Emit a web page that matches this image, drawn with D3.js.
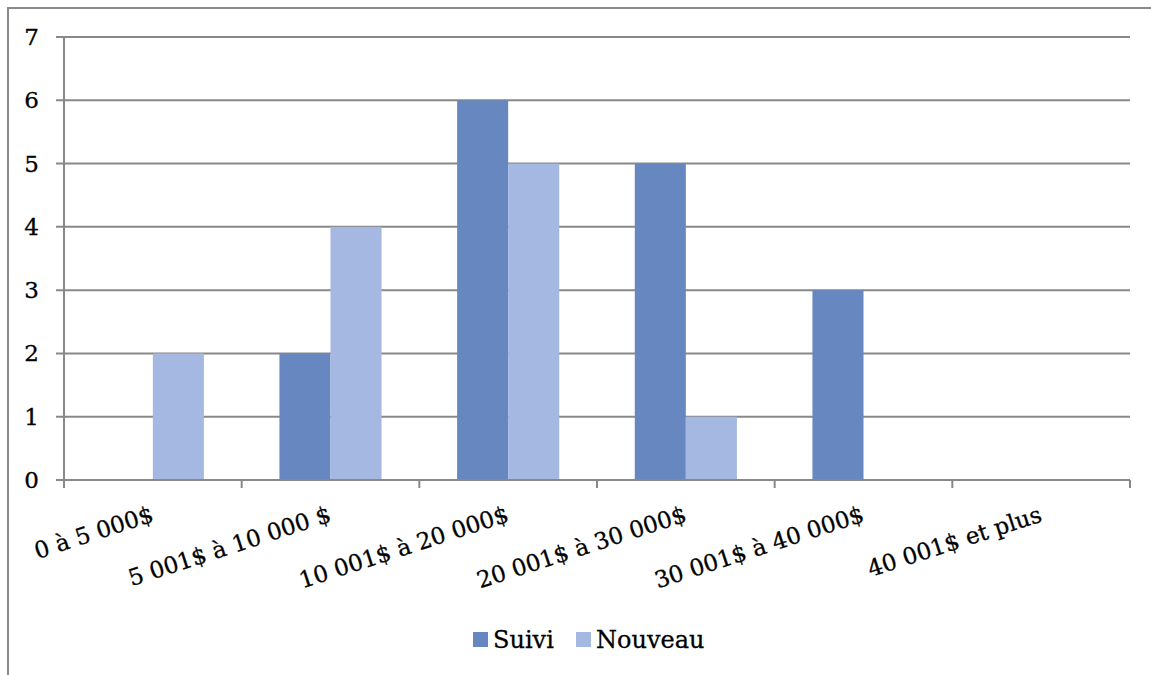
<!DOCTYPE html>
<meta charset="utf-8">
<style>
body { margin: 0; background: #fff; }
svg text { font-family: "DejaVu Serif", serif; fill: #000; stroke: #000; stroke-width: 0.3px; }
</style>
<body>
<script src="https://cdn.jsdelivr.net/npm/d3@7"></script>
<script>
'use strict';

// data
const categories = ["0 à 5 000$", "5 001$ à 10 000 $", "10 001$ à 20 000$",
                    "20 001$ à 30 000$", "30 001$ à 40 000$", "40 001$ et plus"];
const seriesNames = ["Suivi", "Nouveau"];
const suivi   = [0, 2, 6, 5, 3, 0];
const nouveau = [2, 4, 5, 1, 0, 0];
const yTicks  = [0, 1, 2, 3, 4, 5, 6, 7];
const colors  = ["#6787c0", "#a5b8e2"];

const W = 1151, H = 675;
const plot = {left: 64, right: 1130, top: 37, bottom: 480};

const svg = d3.select("body").append("svg")
    .attr("width", W).attr("height", H);

// chart frame (only top and left edges show)
svg.append("path")
    .attr("d", "M8,675V8H1151")
    .attr("fill", "none")
    .attr("stroke", "#888")
    .attr("stroke-width", 2);

const x = d3.scaleBand().domain(categories)
    .range([plot.left, plot.right]);
const inner = d3.scaleBand().domain(seriesNames)
    .range([0, x.bandwidth()])
    .paddingOuter(0.74);
const y = d3.scaleLinear().domain([0, 7]).range([plot.bottom, plot.top]);

// gridlines + left ticks
svg.append("g").selectAll("line").data(yTicks).enter().append("line")
    .attr("x1", plot.left - 8).attr("x2", plot.right)
    .attr("y1", d => y(d)).attr("y2", d => y(d))
    .attr("stroke", "#888").attr("stroke-width", 2);

svg.append("g").selectAll("text").data(yTicks).enter().append("text")
    .attr("x", 39).attr("y", d => y(d) + 8)
    .attr("text-anchor", "end")
    .style("font-size", "23px")
    .text(d => d);

// y axis line
svg.append("line")
    .attr("x1", plot.left).attr("x2", plot.left)
    .attr("y1", plot.top).attr("y2", plot.bottom)
    .attr("stroke", "#888").attr("stroke-width", 2);

// bars
const rows = categories.map((c, i) => ({cat: c, vals: [suivi[i], nouveau[i]]}));
const grp = svg.append("g").selectAll("g").data(rows).enter().append("g")
    .attr("transform", d => `translate(${x(d.cat)},0)`);
grp.selectAll("rect")
    .data(d => d.vals.map((v, j) => ({name: seriesNames[j], v: v, j: j})))
    .enter().append("rect")
    .attr("x", d => inner(d.name))
    .attr("width", inner.bandwidth())
    .attr("y", d => y(d.v))
    .attr("height", d => plot.bottom - y(d.v))
    .attr("fill", d => colors[d.j]);

// x axis line + ticks at category boundaries
svg.append("line")
    .attr("x1", plot.left).attr("x2", plot.right)
    .attr("y1", plot.bottom).attr("y2", plot.bottom)
    .attr("stroke", "#888").attr("stroke-width", 2);
const bounds = categories.map(c => x(c)).concat([plot.right]);
svg.append("g").selectAll("line").data(bounds).enter().append("line")
    .attr("x1", d => d).attr("x2", d => d)
    .attr("y1", plot.bottom).attr("y2", plot.bottom + 8)
    .attr("stroke", "#888").attr("stroke-width", 2);

// rotated category labels
svg.append("g").selectAll("text").data(categories).enter().append("text")
    .attr("text-anchor", "end")
    .attr("transform", d => `translate(${x(d) + x.bandwidth() / 2 + 2},${plot.bottom + 41}) rotate(-18)`)
    .style("font-size", "23px")
    .text(d => d);

// legend
const leg = svg.append("g").attr("transform", "translate(473,632)");
const legX = [0, 103];
seriesNames.forEach((n, i) => {
  leg.append("rect").attr("x", legX[i]).attr("y", 0)
     .attr("width", 15).attr("height", 15).attr("fill", colors[i]);
  leg.append("text").attr("x", legX[i] + 20).attr("y", 16)
     .style("font-size", "24px").text(n);
});
</script>
